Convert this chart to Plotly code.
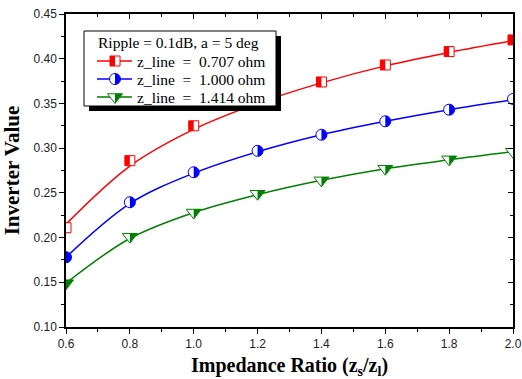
import math
import plotly.graph_objects as go

# ---- data ----
ratio = [0.6, 0.8, 1.0, 1.2, 1.4, 1.6, 1.8, 2.0]

red_pts = [0.211, 0.286, 0.325, 0.352, 0.374, 0.393, 0.408, 0.421]
blue_pts = [0.178, 0.2395, 0.273, 0.297, 0.315, 0.330, 0.343, 0.355]
green_pts = [0.149, 0.201, 0.228, 0.249, 0.264, 0.277, 0.2875, 0.296]

red_curve = [0.215, 0.280, 0.321, 0.350, 0.373, 0.392, 0.407, 0.420]
blue_curve = [0.178, 0.238, 0.272, 0.296, 0.315, 0.330, 0.343, 0.354]
green_curve = [0.149, 0.199, 0.228, 0.248, 0.264, 0.277, 0.287, 0.296]

names = ["z_line\u00a0\u00a0=\u00a0\u00a00.707 ohm",
         "z_line\u00a0\u00a0=\u00a0\u00a01.000 ohm",
         "z_line\u00a0\u00a0=\u00a0\u00a01.414 ohm"]
legend_title = "Ripple = 0.1dB, a = 5 deg"

x_ticks = [0.6, 0.8, 1.0, 1.2, 1.4, 1.6, 1.8, 2.0]
y_ticks = [0.10, 0.15, 0.20, 0.25, 0.30, 0.35, 0.40, 0.45]

RED, BLUE, GREEN = "#ff0000", "#0000ff", "#008000"
SERIF = "Liberation Serif, Times New Roman, serif"
SANS = "Liberation Sans, Arial, sans-serif"

# (points, curve, name, colour, symbol, size, filled half)
series = [
    (red_pts, red_curve, names[0], RED, "square", 10, "left"),
    (blue_pts, blue_curve, names[1], BLUE, "circle", 11, "right"),
    (green_pts, green_curve, names[2], GREEN, "triangle-down", 13, "right"),
]

W, H = 522, 379
L, R, T, B = 66, 9, 14, 52
pw, ph = W - L - R, H - T - B


def px_x(p):
    return (p - L) / pw


def px_y(p):
    return 1 - (p - T) / ph


def sym_path(symbol, size, part):
    """Pixel path (y up) of a marker symbol: part = 'full', 'left' or 'right'."""
    r = size / 2.0
    if symbol == "square":
        if part == "full":
            pts = [(-r, -r), (r, -r), (r, r), (-r, r)]
        elif part == "left":
            pts = [(-r, -r), (0, -r), (0, r), (-r, r)]
        else:
            pts = [(0, -r), (r, -r), (r, r), (0, r)]
    elif symbol == "circle":
        n = 24
        if part == "full":
            angs = [2 * math.pi * i / n for i in range(n)]
        elif part == "right":
            angs = [-math.pi / 2 + math.pi * i / n for i in range(n + 1)]
        else:
            angs = [math.pi / 2 + math.pi * i / n for i in range(n + 1)]
        pts = [(r * math.cos(a), r * math.sin(a)) for a in angs]
    else:  # triangle-down
        rt = r * 2 / math.sqrt(3)
        r2 = r / 2
        if part == "full":
            pts = [(-rt, r2), (rt, r2), (0, -r)]
        elif part == "right":
            pts = [(0, r2), (rt, r2), (0, -r)]
        else:
            pts = [(-rt, r2), (0, r2), (0, -r)]
    return "M" + " L".join(f"{x:.2f},{y:.2f}" for x, y in pts) + " Z"


def marker_shape(xref, yref, xa, ya, symbol, size, part, fill, line_col=None, lw=0):
    return dict(type="path", xref=xref, yref=yref, xsizemode="pixel", ysizemode="pixel",
                xanchor=xa, yanchor=ya, path=sym_path(symbol, size, part),
                fillcolor=fill, line=dict(color=line_col or fill, width=lw), layer="above")


fig = go.Figure()
for pts, curve, name, col, sym, size, half in series:
    fig.add_trace(go.Scatter(
        x=ratio, y=curve, mode="lines", line=dict(color=col, width=1.5, shape="spline"),
        showlegend=False, hoverinfo="skip"))
for pts, curve, name, col, sym, size, half in series:
    fig.add_trace(go.Scatter(
        x=ratio, y=pts, mode="markers", name=name, showlegend=False,
        marker=dict(symbol=sym, size=size, color="white", line=dict(color=col, width=1))))

# dummy trace to attach the mirrored (top / right) axes
fig.add_trace(go.Scatter(x=[None], y=[None], xaxis="x2", yaxis="y2",
                         showlegend=False, hoverinfo="skip"))

shapes = []
# filled halves of the data markers, placed through the data axes
for pts, curve, name, col, sym, size, half in series:
    for xv, yv in zip(ratio, pts):
        shapes.append(marker_shape("x", "y", xv, yv, sym, size, half, col))

# legend box with drop shadow
box = (84, 31, 276, 106)
shapes.append(dict(type="rect", xref="paper", yref="paper",
                   x0=px_x(box[0] + 5), x1=px_x(box[2] + 5), y0=px_y(box[3] + 5), y1=px_y(box[1] + 5),
                   fillcolor="black", line=dict(width=0), layer="above"))
shapes.append(dict(type="rect", xref="paper", yref="paper",
                   x0=px_x(box[0]), x1=px_x(box[2]), y0=px_y(box[3]), y1=px_y(box[1]),
                   fillcolor="white", line=dict(color="black", width=1), layer="above"))

annotations = [dict(text=legend_title, xref="paper", yref="paper", x=px_x(96), y=px_y(43),
                    xanchor="left", yanchor="middle", showarrow=False,
                    font=dict(family=SERIF, size=15.5, color="black"))]
row_y = [61, 79, 97]
for (pts, curve, name, col, sym, size, half), ry in zip(series, row_y):
    shapes.append(dict(type="line", xref="paper", yref="paper",
                       x0=px_x(97), x1=px_x(132), y0=px_y(ry), y1=px_y(ry),
                       line=dict(color=col, width=1.5), layer="above"))
    shapes.append(marker_shape("paper", "paper", px_x(115), px_y(ry), sym, size, "full",
                               "white", col, 1))
    shapes.append(marker_shape("paper", "paper", px_x(115), px_y(ry), sym, size, half, col))
    annotations.append(dict(text=name, xref="paper", yref="paper", x=px_x(135), y=px_y(ry),
                            xanchor="left", yanchor="middle", showarrow=False,
                            font=dict(family=SERIF, size=15.5, color="black")))

axis_common = dict(showgrid=False, zeroline=False, showline=True, linecolor="black",
                   linewidth=1.5, automargin=False)
tick_common = dict(tickwidth=1.2, tickcolor="black")

fig.update_layout(
    width=W, height=H,
    margin=dict(l=L, r=R, t=T, b=B),
    paper_bgcolor="white", plot_bgcolor="white",
    xaxis=dict(range=[0.6, 2.0], tickvals=x_ticks, ticktext=[f"{v:.1f}" for v in x_ticks],
               ticks="outside", ticklen=5, **tick_common,
               minor=dict(ticks="outside", ticklen=3, dtick=0.1, **tick_common),
               tickfont=dict(family=SANS, size=12, color="#222"),
               title=dict(text="<b>Impedance Ratio (z<sub>s</sub>/z<sub>l</sub>)</b>",
                          font=dict(family=SERIF, size=20, color="black"), standoff=16),
               **axis_common),
    yaxis=dict(range=[0.10, 0.45], tickvals=y_ticks, ticktext=[f"{v:.2f}" for v in y_ticks],
               ticks="outside", ticklen=5, **tick_common,
               minor=dict(ticks="outside", ticklen=3, dtick=0.025, **tick_common),
               tickfont=dict(family=SANS, size=12, color="#222"),
               title=dict(text="<b>Inverter Value</b>",
                          font=dict(family=SERIF, size=21, color="black"), standoff=8),
               **axis_common),
    xaxis2=dict(range=[0.6, 2.0], overlaying="x", side="top", tickvals=x_ticks,
                showticklabels=False, ticks="inside", ticklen=5, **tick_common,
                minor=dict(ticks="inside", ticklen=3, dtick=0.1, **tick_common),
                **axis_common),
    yaxis2=dict(range=[0.10, 0.45], overlaying="y", side="right", tickvals=y_ticks,
                showticklabels=False, ticks="inside", ticklen=5, **tick_common,
                minor=dict(ticks="inside", ticklen=3, dtick=0.025, **tick_common),
                **axis_common),
    shapes=shapes,
    annotations=annotations,
    showlegend=False,
)

fig.write_html("out.html")
